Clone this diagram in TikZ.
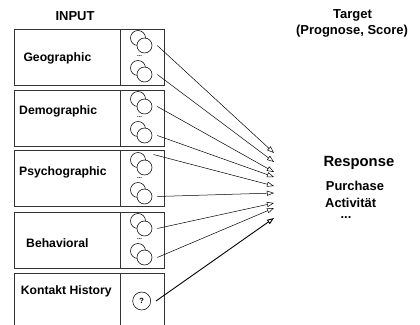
\documentclass[tikz,border=0pt]{standalone}
\usepackage{fontspec}
\setmainfont{Liberation Sans}
\usetikzlibrary{arrows.meta}

\begin{document}
\begin{tikzpicture}[x=1pt, y=1pt,
        box/.style={rectangle, draw=black!80, line width=0.6pt, minimum height=56pt, inner sep=0pt},
        bubble/.style={circle, draw, fill=white, line width=0.55pt, minimum size=15pt, inner sep=0pt},
        boxtext/.style={anchor=base west, inner sep=0pt, font=\fontsize{12.2}{14}\selectfont\bfseries},
        headtext/.style={anchor=base, inner sep=0pt, font=\fontsize{13}{15}\selectfont\bfseries},
        gap/.style={inner sep=0pt, font=\fontsize{6}{6}\selectfont\bfseries},
        arr/.style={-{Triangle[open, length=7pt, width=5pt]}, line width=0.5pt}]
        \useasboundingbox (0,0) rectangle (420,-324);

        % Headings
        \node (input) [headtext] at (75,-20) {INPUT};
        \node (target) [headtext] at (352.5,-18) {Target};
        \node (prog) [headtext] at (352,-34) {(Prognose, Score)};

        % Boxes
        \node (geo) [box, minimum width=106pt] at (67,-57) {};
        \node (geoR) [box, minimum width=44pt] at (142,-57) {};
        \node (dem) [box, minimum width=106pt] at (67,-118) {};
        \node (demR) [box, minimum width=44pt] at (142,-118) {};
        \node (psy) [box, minimum width=106pt] at (67,-178.5) {};
        \node (psyR) [box, minimum width=44pt] at (142,-178.5) {};
        \node (beh) [box, minimum width=106pt] at (67,-240) {};
        \node (behR) [box, minimum width=44pt] at (142,-240) {};
        \node (kon) [box, minimum width=106pt, minimum height=72pt] at (67,-309) {};
        \node (konR) [box, minimum width=44pt, minimum height=72pt] at (142,-309) {};

        % Box labels
        \node (geoT) [boxtext] at (23.3,-61) {Geographic};
        \node (demT) [boxtext] at (19,-114.5) {Demographic};
        \node (psyT) [boxtext] at (19,-175.5) {Psychographic};
        \node (behT) [boxtext] at (26,-247) {Behavioral};
        \node (konT) [boxtext] at (20.7,-294.5) {Kontakt History};

        % Variables
        \node (geoA1) [bubble] at (138,-38) {};
        \node (geoB1) [bubble] at (144.5,-45.5) {};
        \node (geoD) [gap] at (139.5,-56.5) {...};
        \node (geoA2) [bubble] at (138,-68) {};
        \node (geoB2) [bubble] at (144.5,-74.5) {};
        \node (demA1) [bubble] at (138,-99) {};
        \node (demB1) [bubble] at (144.5,-106.5) {};
        \node (demD) [gap] at (139.5,-117.5) {...};
        \node (demA2) [bubble] at (138,-129) {};
        \node (demB2) [bubble] at (144.5,-135.5) {};
        \node (psyA1) [bubble] at (138,-160) {};
        \node (psyB1) [bubble] at (144.5,-167.5) {};
        \node (psyD) [gap] at (139.5,-178.5) {...};
        \node (psyA2) [bubble] at (138,-190) {};
        \node (psyB2) [bubble] at (144.5,-196.5) {};
        \node (behA1) [bubble] at (138,-221) {};
        \node (behB1) [bubble] at (144.5,-228.5) {};
        \node (behD) [gap] at (139.5,-239.5) {...};
        \node (behA2) [bubble] at (138,-251) {};
        \node (behB2) [bubble] at (144.5,-257.5) {};
        \node (konQ) [bubble, minimum size=18pt, font=\fontsize{7.5}{7.5}\selectfont\bfseries] at (141.7,-301) {?};

        % Response
        \node (resp) [anchor=base west, inner sep=0pt, font=\fontsize{14.8}{16}\selectfont\bfseries] at (323.3,-166) {Response};
        \node (purch) [anchor=base west, inner sep=0pt, font=\fontsize{12.9}{14}\selectfont\bfseries] at (325.7,-190) {Purchase};
        \node (activ) [anchor=base west, inner sep=0pt, font=\fontsize{12.9}{14}\selectfont\bfseries] at (325,-207) {Activität};
        \node (more) [inner sep=0pt, font=\fontsize{12.9}{14}\selectfont\bfseries] at (346,-218) {...};

        % Arrow tips
        \coordinate (t1) at (274,-153);
        \coordinate (t2) at (274,-162);
        \coordinate (t3) at (274,-172);
        \coordinate (t4) at (274,-177);
        \coordinate (t5) at (274,-186);
        \coordinate (t6) at (274,-193);
        \coordinate (t7) at (274,-203);
        \coordinate (t8) at (274,-208);
        \coordinate (t9) at (274,-218);

        % Edges
        \draw[arr] ([xshift=5pt]geoB1.east) -- (t1);
        \draw[arr] ([xshift=5pt]geoB2.east) -- (t2);
        \draw[arr] ([xshift=5pt]demB1.east) -- (t3);
        \draw[arr] ([xshift=5pt]demB2.east) -- (t4);
        \draw[arr] ([xshift=10pt]psyA1.north east) -- (t5);
        \draw[arr] ([xshift=5pt]psyB2.east) -- (t6);
        \draw[arr] ([xshift=5pt]behB1.east) -- (t7);
        \draw[arr] ([xshift=5pt]behB2.east) -- (t8);
        \draw[arr, line width=0.9pt] ([xshift=5pt]konQ.east) -- (t9);
    \end{tikzpicture}
\end{document}
